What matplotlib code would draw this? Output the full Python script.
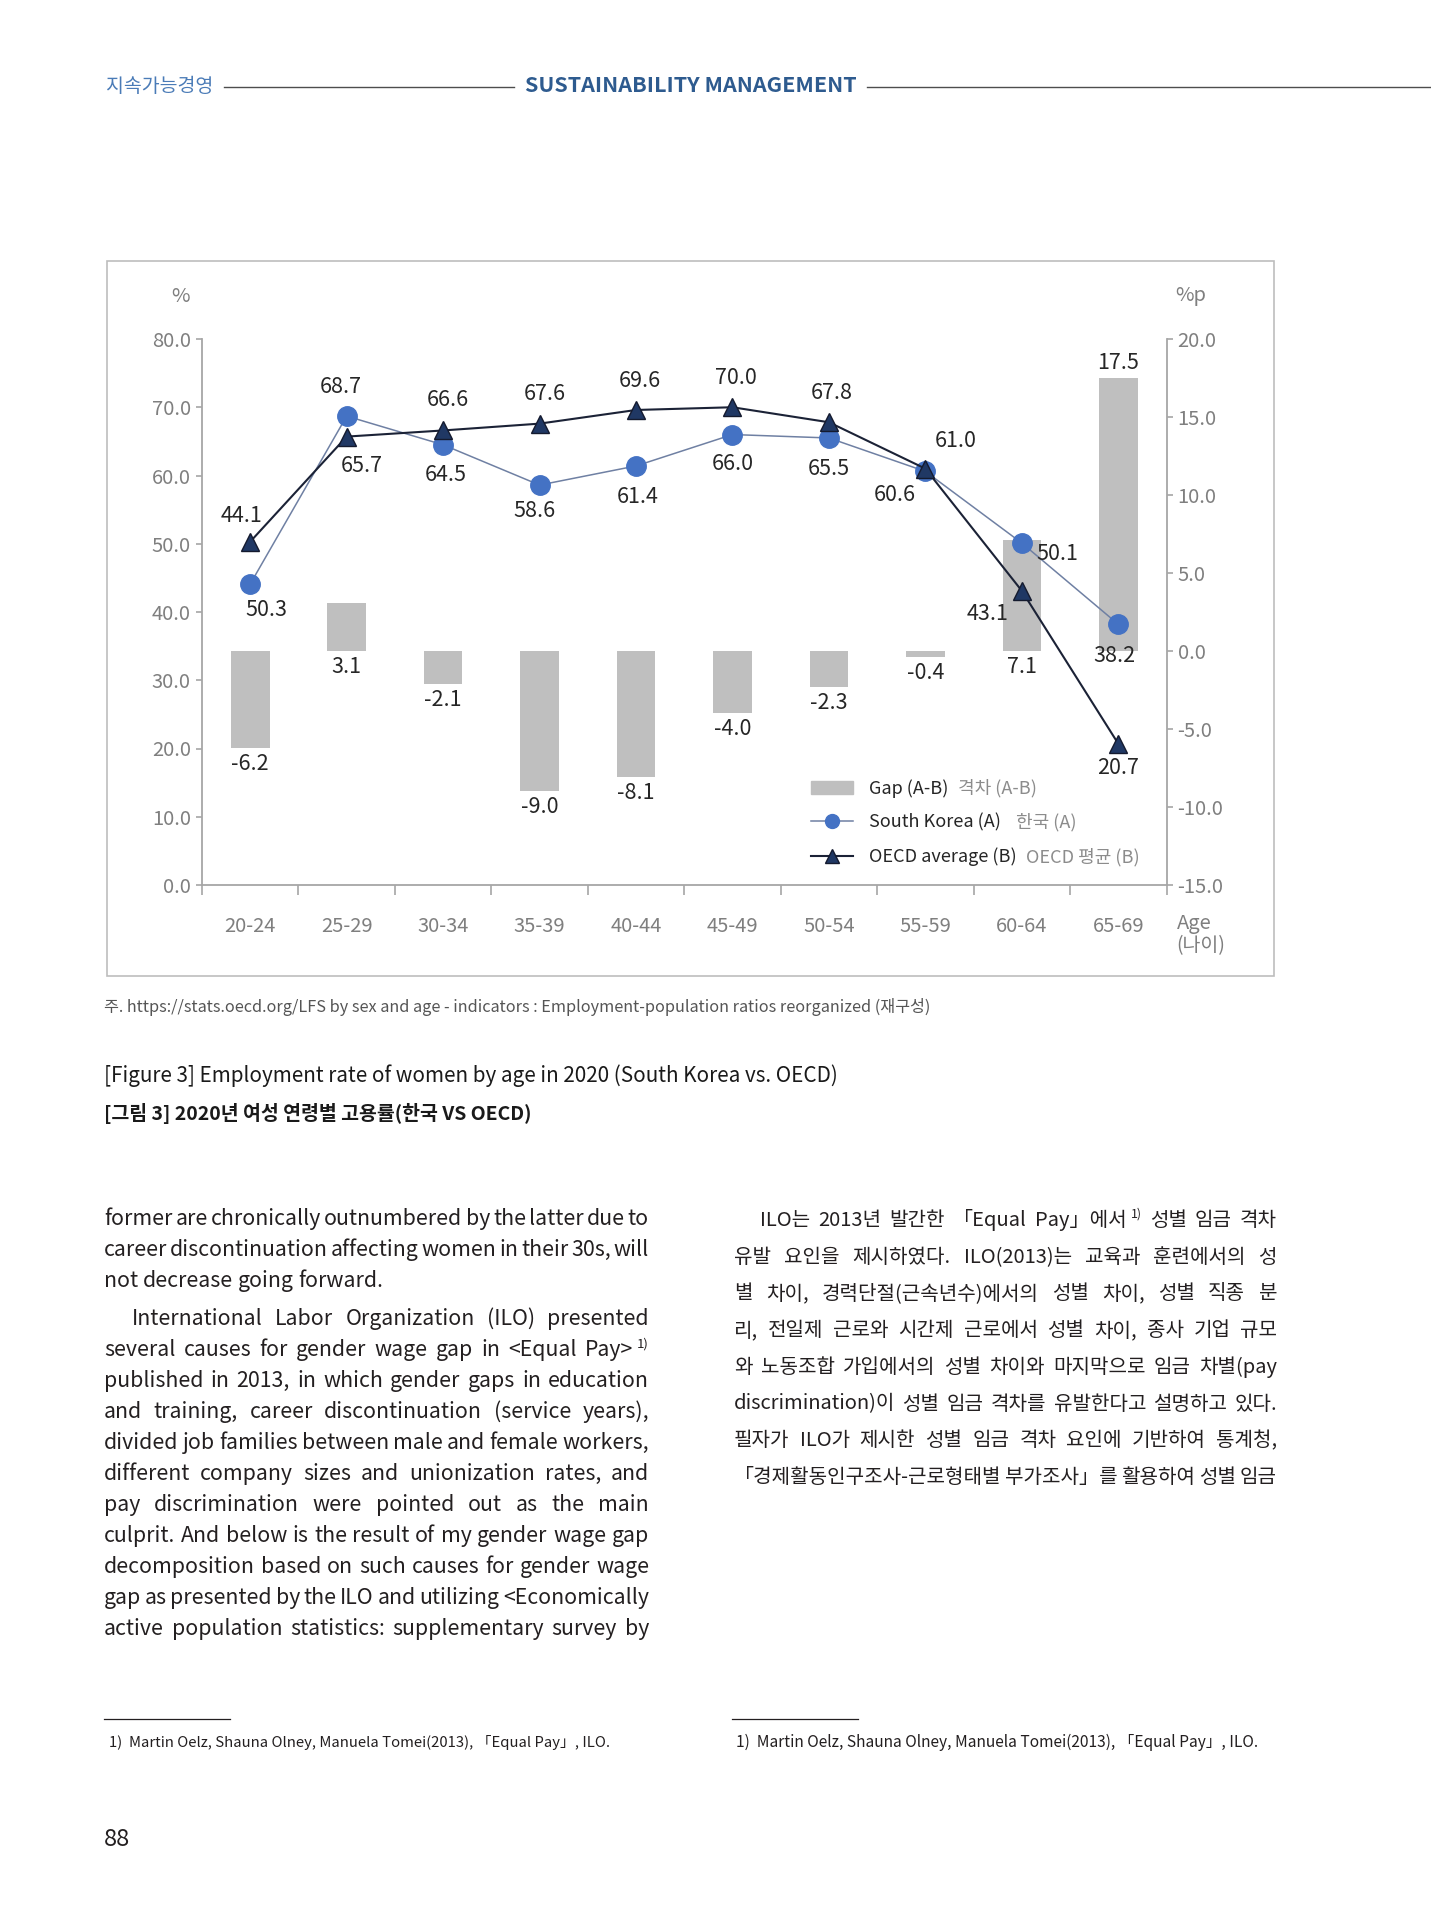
import numpy as np
import matplotlib
matplotlib.use('Agg')
import matplotlib.pyplot as plt
from matplotlib.lines import Line2D
from matplotlib.patches import Patch, Rectangle

plt.rcParams['font.family'] = ['Noto Sans CJK KR', 'DejaVu Sans']

# ---- data ----
ages = ['20-24', '25-29', '30-34', '35-39', '40-44', '45-49', '50-54', '55-59', '60-64', '65-69']
korea = [44.1, 68.7, 64.5, 58.6, 61.4, 66.0, 65.5, 60.6, 50.1, 38.2]
oecd = [50.3, 65.7, 66.6, 67.6, 69.6, 70.0, 67.8, 61.0, 43.1, 20.7]
gap = [-6.2, 3.1, -2.1, -9.0, -8.1, -4.0, -2.3, -0.4, 7.1, 17.5]
left_ticks = [0, 10, 20, 30, 40, 50, 60, 70, 80]
right_ticks = [-15, -10, -5, 0, 5, 10, 15, 20]

# label offsets (points) as printed in the source figure
korea_off = [(-6, 49), (-4, 21), (2, -22), (-4, -18.5), (1, -22), (0, -21), (0, -22), (-22, -17), (25.5, -8), (-3, -23)]
oecd_off = [(11.5, -49), (10.5, -21), (3.5, 22), (3.5, 21), (2.5, 21), (2.5, 21), (2, 21), (22, 20), (-24.5, -17), (0, -17.5)]

left_col = [
    ["former are chronically outnumbered by the latter due to",
     "career discontinuation affecting women in their 30s, will",
     "not decrease going forward."],
    ["International Labor Organization (ILO) presented",
     "several causes for gender wage gap in <Equal Pay>^1)",
     "published in 2013, in which gender gaps in education",
     "and training, career discontinuation (service years),",
     "divided job families between male and female workers,",
     "different company sizes and unionization rates, and",
     "pay discrimination were pointed out as the main",
     "culprit. And below is the result of my gender wage gap",
     "decomposition based on such causes for gender wage",
     "gap as presented by the ILO and utilizing <Economically",
     "active population statistics: supplementary survey by"],
]
right_col = [
    "ILO는 2013년 발간한 「Equal Pay」에서^1) 성별 임금 격차",
    "유발 요인을 제시하였다. ILO(2013)는 교육과 훈련에서의 성",
    "별 차이, 경력단절(근속년수)에서의 성별 차이, 성별 직종 분",
    "리, 전일제 근로와 시간제 근로에서 성별 차이, 종사 기업 규모",
    "와 노동조합 가입에서의 성별 차이와 마지막으로 임금 차별(pay",
    "discrimination)이 성별 임금 격차를 유발한다고 설명하고 있다.",
    "필자가 ILO가 제시한 성별 임금 격차 요인에 기반하여 통계청,",
    "「경제활동인구조사-근로형태별 부가조사」를 활용하여 성별 임금",
]
footnote = "1)  Martin Oelz, Shauna Olney, Manuela Tomei(2013), 「Equal Pay」, ILO."

W, H = 1431, 1920
fig = plt.figure(figsize=(W / 100, H / 100), dpi=100)
renderer = fig.canvas.get_renderer()
PX = 100 / 72


def fxy(x, y):
    return x / W, 1 - y / H


def ftext(x, y, s, **kw):
    return fig.text(x / W, 1 - y / H, s, **kw)


def hline(x0, x1, y, color='#4d4d4d', lw=1.0):
    fig.add_artist(Line2D([x0 / W, x1 / W], [1 - y / H, 1 - y / H], color=color, lw=lw,
                          transform=fig.transFigure))


def measure(s, size, **kw):
    t = fig.text(0, 0, s, fontsize=size, **kw)
    w = t.get_window_extent(renderer).width
    t.remove()
    return w


# ---- header ----
ftext(106, 86, '지속가능경영', fontsize=14, color='#4a7bb7', va='center')
hline(224, 514, 87)
ftext(525, 86, 'SUSTAINABILITY MANAGEMENT', fontsize=15.5, color='#2e5b8f', weight='bold', va='center')
hline(867, 1431, 87)

# ---- chart ----
fig.add_artist(Rectangle(fxy(107, 976), (1274 - 107) / W, (976 - 261) / H, transform=fig.transFigure,
                         fill=False, edgecolor='#bdbdbd', lw=1.2))

ax_l, ax_r, ax_t, ax_b = 202, 1166.5, 339, 885
ax = fig.add_axes([ax_l / W, 1 - ax_b / H, (ax_r - ax_l) / W, (ax_b - ax_t) / H])
ax2 = ax.twinx()
ax.set_zorder(ax2.get_zorder() + 1)
ax.patch.set_visible(False)

x = np.arange(len(ages))
gray = '#a6a6a6'
tick_gray = '#7f7f7f'
lab_size = 15.5

ax2.bar(x, gap, width=0.4, color='#bfbfbf', zorder=1)
for xi, v in zip(x, gap):
    # big positive gap is labelled on top, the rest under the bar / baseline
    if v >= 10:
        ax2.annotate(f'{v:.1f}', (xi, v), xytext=(0, 11), textcoords='offset points',
                     ha='center', va='center', fontsize=lab_size, color='#262626')
    else:
        ax2.annotate(f'{v:.1f}', (xi, min(v, 0)), xytext=(0, -11.5), textcoords='offset points',
                     ha='center', va='center', fontsize=lab_size, color='#262626')

ax.plot(x, korea, color='#6f80a3', lw=1.1, marker='o', ms=14, mfc='#4472c4', mec='#4472c4', zorder=3)
ax.plot(x, oecd, color='#1b2236', lw=1.5, marker='^', ms=13, mfc='#203864', mec='#141a2e', zorder=4)
for xi, v, off in zip(x, korea, korea_off):
    ax.annotate(f'{v:.1f}', (xi, v), xytext=off, textcoords='offset points',
                ha='center', va='center', fontsize=lab_size, color='#262626')
for xi, v, off in zip(x, oecd, oecd_off):
    ax.annotate(f'{v:.1f}', (xi, v), xytext=off, textcoords='offset points',
                ha='center', va='center', fontsize=lab_size, color='#262626')

ax.set_xlim(-0.5, len(ages) - 0.5)
ax.set_ylim(0, 80)
ax2.set_ylim(-15, 20)
ax.set_yticks(left_ticks)
ax.set_yticklabels([f'{v:.1f}' for v in left_ticks])
ax2.set_yticks(right_ticks)
ax2.set_yticklabels([f'{v:.1f}' for v in right_ticks])
ax.set_xticks(x)
ax.set_xticklabels(ages)
ax.set_xticks(np.arange(-0.5, len(ages), 1), minor=True)

for a in (ax, ax2):
    for s in a.spines.values():
        s.set_visible(False)
ax.spines['left'].set_visible(True)
ax.spines['bottom'].set_visible(True)
ax2.spines['right'].set_visible(True)
for s in (ax.spines['left'], ax.spines['bottom'], ax2.spines['right']):
    s.set_color(gray)
    s.set_linewidth(1.3)

ax.tick_params(axis='y', length=4, width=1.2, color=gray, labelcolor=tick_gray, labelsize=14.5, pad=4)
ax2.tick_params(axis='y', length=4, width=1.2, color=gray, labelcolor=tick_gray, labelsize=14.5, pad=4)
ax.tick_params(axis='x', which='major', length=0, labelcolor=tick_gray, labelsize=14.5, pad=22)
ax.tick_params(axis='x', which='minor', length=7, width=1.2, color=gray)

ftext(181, 296, '%', fontsize=14.5, color=tick_gray, ha='center', va='center')
ftext(1191, 296, '%p', fontsize=14.5, color=tick_gray, ha='center', va='center')
ftext(1177, 924, 'Age', fontsize=14.5, color=tick_gray, ha='left', va='center')
ftext(1176, 946, '(나이)', fontsize=14, color=tick_gray, ha='left', va='center')

handles = [Patch(color='#bfbfbf'),
           Line2D([], [], color='#6f80a3', lw=1.1, marker='o', ms=10, mfc='#4472c4', mec='#4472c4'),
           Line2D([], [], color='#1b2236', lw=1.5, marker='^', ms=10, mfc='#203864', mec='#141a2e')]
leg = ax.legend(handles, ['Gap (A-B)', 'South Korea (A)', 'OECD average (B)'],
                loc='upper left', bbox_to_anchor=fxy(811, 779), bbox_transform=fig.transFigure,
                frameon=False, fontsize=13, handlelength=2.3, handletextpad=0.9,
                labelspacing=0.88, borderpad=0, borderaxespad=0)
for t in leg.get_texts():
    t.set_color('#262626')

fig.canvas.draw()
kor_parts = ['격차 (A-B)', '한국 (A)', 'OECD 평균 (B)']
kor_gaps = [10, 15, 10]
for t, s, g in zip(leg.get_texts(), kor_parts, kor_gaps):
    bb = t.get_window_extent(renderer)
    fig.text((bb.x1 + g) / W, (bb.y0 + bb.y1) / 2 / H, s, fontsize=13, color='#8c8c8c', va='center')

# ---- captions ----
ftext(104, 1007, '주. https://stats.oecd.org/LFS by sex and age - indicators : Employment-population ratios reorganized (재구성)',
      fontsize=11.7, color='#555555', va='center')
ftext(104, 1076, '[Figure 3] Employment rate of women by age in 2020 (South Korea vs. OECD)',
      fontsize=14.9, color='#1a1a1a', va='center')
ftext(104, 1113, '[그림 3] 2020년 여성 연령별 고용률(한국 VS OECD)',
      fontsize=14, color='#1a1a1a', weight='bold', va='center')


# ---- justified body text ----
def split_words(line):
    out = []
    for w in line.split(' '):
        if '^' in w:
            m, s = w.split('^')
        else:
            m, s = w, ''
        out.append((m, s))
    return out


def word_widths(words, size):
    res = []
    for m, s in words:
        wm = measure(m, size) if m else 0
        ws = (measure(s, size * 0.62) + size * PX * 0.2) if s else 0
        res.append(wm + ws)
    return res


def draw_line(line, x0, x1, y, size, justify, color='#231f20'):
    words = split_words(line)
    widths = word_widths(words, size)
    if justify and len(words) > 1:
        g = (x1 - x0 - sum(widths)) / (len(words) - 1)
    else:
        g = measure('a a', size) - measure('aa', size)
    xc = x0
    for (m, s), w in zip(words, widths):
        if m:
            ftext(xc, y, m, fontsize=size, color=color, va='baseline')
        if s:
            wm = measure(m, size)
            ftext(xc + wm + size * PX * 0.2, y - size * PX * 0.42, s, fontsize=size * 0.62,
                  color=color, va='baseline')
        xc += w + g


def fit_size(lines, base, width, min_gap=0.45):
    # largest size (<= base) at which every line fits with word gaps >= min_gap * space
    sp = (measure('a a', base) - measure('aa', base)) * min_gap
    worst = 1.0
    for ln, ind in lines:
        ws = word_widths(split_words(ln), base)
        nat = sum(ws) + sp * (len(ws) - 1)
        worst = min(worst, (width - ind) / nat)
    return base * min(1.0, worst * 0.995)


# left column
L0, L1 = 104, 649
left_lines = []
for pi, para in enumerate(left_col):
    for li, ln in enumerate(para):
        last = (pi == 0 and li == len(para) - 1)
        if not last:
            left_lines.append((ln, 28 if (pi > 0 and li == 0) else 0))
size_l = fit_size(left_lines, 17, L1 - L0, 0.62)
y = 1225
for pi, para in enumerate(left_col):
    if pi > 0:
        y += 7
    for li, ln in enumerate(para):
        indent = 28 if (pi > 0 and li == 0) else 0
        last = (pi == 0 and li == len(para) - 1)
        draw_line(ln, L0 + indent, L1, y, size_l, not last)
        y += 31

# right column
R0, R1 = 734, 1277
size_r = fit_size([(ln, 26 if i == 0 else 0) for i, ln in enumerate(right_col)], 16, R1 - R0, 0.6)
y = 1226
for li, ln in enumerate(right_col):
    indent = 26 if li == 0 else 0
    draw_line(ln, R0 + indent, R1, y, size_r, True)
    y += 36.7

# ---- footnotes ----
hline(104, 230, 1719, color='#231f20', lw=0.9)
hline(732, 858, 1719, color='#231f20', lw=0.9)
ftext(109, 1742, footnote, fontsize=10.7, color='#231f20', va='center')
ftext(736, 1742, footnote, fontsize=11.2, color='#231f20', va='center')
ftext(104, 1840, '88', fontsize=17, color='#231f20', va='center')

fig.savefig('out.png', dpi=100)
